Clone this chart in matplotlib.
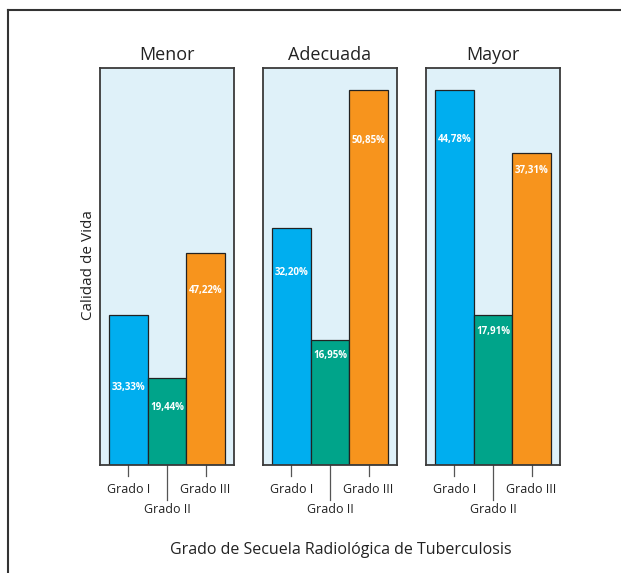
import matplotlib
matplotlib.use("Agg")
import matplotlib.pyplot as plt
from matplotlib.lines import Line2D
from matplotlib.transforms import blended_transform_factory

panels = ["Menor", "Adecuada", "Mayor"]
grades = ["Grado I", "Grado II", "Grado III"]
counts = {
    "Menor": [12, 7, 17],
    "Adecuada": [19, 10, 30],
    "Mayor": [30, 12, 25],
}
pct_labels = {
    "Menor": ["33,33%", "19,44%", "47,22%"],
    "Adecuada": ["32,20%", "16,95%", "50,85%"],
    "Mayor": ["44,78%", "17,91%", "37,31%"],
}
# label heights (layout, in count units)
label_y = {
    "Menor": [6.2, 4.6, 14.0],
    "Adecuada": [15.4, 8.8, 26.0],
    "Mayor": [26.1, 10.7, 23.6],
}
colors = ["#00aeef", "#00a48a", "#f7941d"]
bg = "#dff1f9"
edge = "#3a3a3a"

W, H = 621, 573
fig = plt.figure(figsize=(W / 100, H / 100), dpi=100)
font = "Open Sans"
plt.rcParams["font.family"] = [font, "DejaVu Sans"]

lefts = [100, 263, 426]
pw, top, bottom = 134, 68, 465
for i, p in enumerate(panels):
    ax = fig.add_axes([lefts[i] / W, 1 - bottom / H, pw / W, (bottom - top) / H])
    ax.set_facecolor(bg)
    x = range(len(grades))
    ax.bar(x, counts[p], width=1.0, color=colors, edgecolor="#222222", linewidth=0.9, zorder=2)
    ax.set_xlim(-0.74, 2.74)
    ax.set_ylim(0, 31.8)
    ax.set_xticks([])
    ax.set_yticks([])
    for s in ax.spines.values():
        s.set_color(edge)
        s.set_linewidth(1.3)
    ax.set_title(p, fontsize=13, pad=6, color="#222222")
    for j, lab in enumerate(pct_labels[p]):
        ax.text(j, label_y[p][j], lab, ha="center", va="center", color="white",
                fontsize=7, fontweight="bold", zorder=3)
    tr = blended_transform_factory(ax.transData, ax.transAxes)
    for j, g in enumerate(grades):
        long = (j == 1)
        d = 0.088 if long else 0.027
        ax.add_line(Line2D([j, j], [0, -d], transform=tr, color="#555555",
                           linewidth=0.9, clip_on=False))
        ty = -0.113 if long else -0.061
        ax.text(j, ty, g, transform=tr, ha="center", va="center",
                fontsize=9, color="#222222")

fig.text(88 / W, 1 - 265 / H, "Calidad de Vida", rotation=90, ha="center",
         va="center", fontsize=11, color="#222222")
fig.text(341 / W, 1 - 550 / H, "Grado de Secuela Radiológica de Tuberculosis",
         ha="center", va="center", fontsize=11.5, color="#222222")

# outer frame (top and left edges)
fig.add_artist(Line2D([8 / W, 1.0], [1 - 10 / H, 1 - 10 / H], transform=fig.transFigure,
                      color="#333333", linewidth=1.5))
fig.add_artist(Line2D([8 / W, 8 / W], [0, 1 - 10 / H], transform=fig.transFigure,
                      color="#333333", linewidth=1.5))

fig.savefig("out.png", dpi=100)
